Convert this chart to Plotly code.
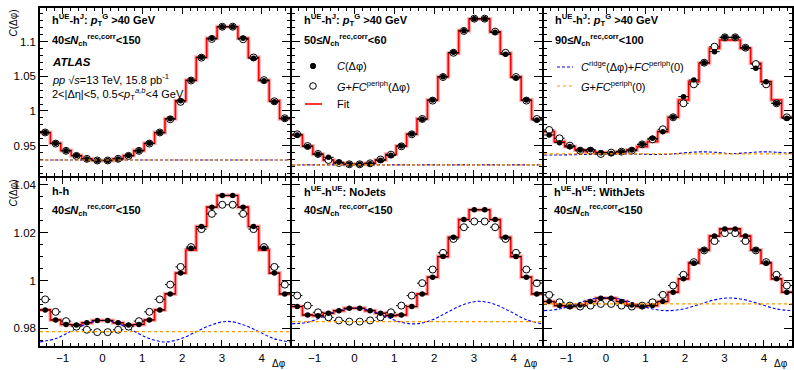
import numpy as np
import plotly.graph_objects as go

W, H = 794, 370
PI = np.pi
NB = 24
edges = -PI / 2 + np.arange(NB + 1) * (2 * PI / NB)
centers = 0.5 * (edges[:-1] + edges[1:])
ridge_x = -PI / 2 + np.arange(17) * (PI / 8)

# ---------------- data ----------------
tl_C = [0.9688, 0.9534, 0.9428, 0.9356, 0.9308, 0.9284, 0.9284, 0.9308, 0.9356, 0.9428, 0.9534, 0.9688,
        0.9889, 1.0149, 1.0442, 1.0774, 1.1048, 1.1216, 1.1216, 1.1048, 1.0760, 1.0438, 1.0134, 0.9890]
tl_G = [0.9690, 0.9530, 0.9425, 0.9352, 0.9310, 0.9286, 0.9286, 0.9310, 0.9352, 0.9425, 0.9530, 0.9690,
        0.9880, 1.0132, 1.0440, 1.0770, 1.1040, 1.1216, 1.1216, 1.1035, 1.0772, 1.0445, 1.0140, 0.9895]
tl_fit = [0.9688, 0.9534, 0.9430, 0.9358, 0.9310, 0.9286, 0.9286, 0.9310, 0.9358, 0.9430, 0.9534, 0.9688,
          0.9889, 1.0149, 1.0442, 1.0774, 1.1048, 1.1216, 1.1216, 1.1048, 1.0774, 1.0442, 1.0149, 0.9889]
tl_ridge = [0.9293] * 17
tl_ped = 0.9293

tm_C = [0.9654, 0.9486, 0.9375, 0.9332, 0.9260, 0.9231, 0.9231, 0.9240, 0.9288, 0.9360, 0.9495, 0.9668,
        0.9880, 1.0159, 1.0495, 1.0846, 1.1159, 1.1332, 1.1332, 1.1135, 1.0817, 1.0480, 1.0159, 0.9870]
tm_G = [0.9664, 0.9495, 0.9380, 0.9293, 0.9250, 0.9231, 0.9231, 0.9245, 0.9300, 0.9370, 0.9490, 0.9664,
        0.9885, 1.0150, 1.0490, 1.0840, 1.1155, 1.1332, 1.1332, 1.1145, 1.0840, 1.0490, 1.0150, 0.9885]
tm_fit = [0.9654, 0.9495, 0.9375, 0.9293, 0.9245, 0.9231, 0.9231, 0.9245, 0.9293, 0.9375, 0.9495, 0.9664,
          0.9887, 1.0159, 1.0495, 1.0832, 1.1159, 1.1327, 1.1327, 1.1144, 1.0832, 1.0495, 1.0159, 0.9887]
tm_ridge = [0.9222] * 17
tm_ped = 0.9222

tr_C = [0.9654, 0.9543, 0.9486, 0.9438, 0.9442, 0.9399, 0.9385, 0.9413, 0.9438, 0.9519, 0.9606, 0.9702,
        0.9909, 1.0207, 1.0447, 1.0697, 1.0856, 1.1063, 1.1063, 1.0913, 1.0615, 1.0423, 1.0111, 0.9894]
tr_G = [0.9726, 0.9606, 0.9500, 0.9428, 0.9428, 0.9380, 0.9399, 0.9413, 0.9428, 0.9519, 0.9591, 0.9736,
        0.9909, 1.0111, 1.0385, 1.0697, 1.0928, 1.1063, 1.1063, 1.0913, 1.0678, 1.0385, 1.0111, 0.9909]
tr_fit = [0.9702, 0.9558, 0.9486, 0.9438, 0.9413, 0.9399, 0.9399, 0.9413, 0.9438, 0.9486, 0.9558, 0.9702,
          0.9909, 1.0159, 1.0423, 1.0688, 1.0904, 1.1024, 1.1024, 1.0904, 1.0688, 1.0423, 1.0159, 0.9909]
tr_ridge = [0.9365, 0.9365, 0.9370, 0.9375, 0.9380, 0.9380, 0.9378, 0.9372, 0.9375, 0.9395, 0.9410,
            0.9405, 0.9385, 0.9395, 0.9410, 0.9405, 0.9385]
tr_ped = 0.9380

bl_C = [0.9877, 0.9835, 0.9816, 0.9814, 0.9823, 0.9833, 0.9833, 0.9823, 0.9814, 0.9816, 0.9835, 0.9877,
        0.9944, 1.0031, 1.0135, 1.0226, 1.0307, 1.0356, 1.0356, 1.0307, 1.0226, 1.0135, 1.0031, 0.9944]
bl_G = [0.9921, 0.9869, 0.9830, 0.9807, 0.9794, 0.9784, 0.9784, 0.9794, 0.9807, 0.9830, 0.9869, 0.9921,
        0.9983, 1.0057, 1.0140, 1.0215, 1.0279, 1.0317, 1.0317, 1.0279, 1.0215, 1.0140, 1.0057, 0.9983]
bl_fit = [0.9877, 0.9835, 0.9816, 0.9814, 0.9823, 0.9833, 0.9833, 0.9823, 0.9814, 0.9816, 0.9835, 0.9877,
          0.9944, 1.0031, 1.0128, 1.0226, 1.0307, 1.0356, 1.0356, 1.0307, 1.0226, 1.0128, 1.0031, 0.9944]
bl_ridge = [0.9743, 0.9757, 0.9788, 0.9819, 0.9833, 0.9819, 0.9788, 0.9757, 0.9743, 0.9756, 0.9786,
            0.9815, 0.9829, 0.9815, 0.9786, 0.9756, 0.9743]
bl_ped = 0.97865

bm_C = [0.9891, 0.9856, 0.9853, 0.9863, 0.9874, 0.9884, 0.9884, 0.9874, 0.9863, 0.9853, 0.9856, 0.9891,
        0.9944, 1.0014, 1.0100, 1.0181, 1.0255, 1.0296, 1.0296, 1.0255, 1.0181, 1.0100, 1.0014, 0.9944]
bm_G = [0.9937, 0.9895, 0.9867, 0.9846, 0.9833, 0.9828, 0.9828, 0.9833, 0.9846, 0.9867, 0.9895, 0.9937,
        0.9989, 1.0046, 1.0116, 1.0174, 1.0223, 1.0247, 1.0247, 1.0223, 1.0174, 1.0116, 1.0046, 0.9989]
bm_fit = [0.9891, 0.9856, 0.9853, 0.9863, 0.9874, 0.9884, 0.9884, 0.9874, 0.9863, 0.9853, 0.9856, 0.9891,
          0.9944, 1.0014, 1.0100, 1.0181, 1.0255, 1.0296, 1.0296, 1.0255, 1.0181, 1.0100, 1.0014, 0.9944]
bm_ridge = [0.9819, 0.9825, 0.9849, 0.9874, 0.9884, 0.9874, 0.9849, 0.9825, 0.9819, 0.9836, 0.9869,
            0.9900, 0.9913, 0.9900, 0.9869, 0.9836, 0.9819]
bm_ped = 0.9828

br_C = [0.9912, 0.9895, 0.9891, 0.9898, 0.9912, 0.9926, 0.9926, 0.9912, 0.9898, 0.9891, 0.9895, 0.9912,
        0.9951, 1.0007, 1.0073, 1.0128, 1.0186, 1.0216, 1.0216, 1.0186, 1.0128, 1.0073, 1.0007, 0.9951]
br_G = [0.9940, 0.9909, 0.9895, 0.9891, 0.9895, 0.9902, 0.9902, 0.9895, 0.9891, 0.9895, 0.9909, 0.9940,
        0.9979, 1.0024, 1.0077, 1.0126, 1.0165, 1.0198, 1.0198, 1.0165, 1.0126, 1.0077, 1.0024, 0.9979]
br_fit = [0.9912, 0.9895, 0.9891, 0.9898, 0.9912, 0.9926, 0.9926, 0.9912, 0.9898, 0.9891, 0.9895, 0.9912,
          0.9951, 1.0007, 1.0073, 1.0128, 1.0186, 1.0216, 1.0216, 1.0186, 1.0128, 1.0073, 1.0007, 0.9951]
br_ridge = [0.9874, 0.9881, 0.9901, 0.9921, 0.9929, 0.9921, 0.9901, 0.9881, 0.9874, 0.9881, 0.9900,
            0.9919, 0.9927, 0.9919, 0.9900, 0.9881, 0.9874]
br_ped = 0.9902

panels = [
    (tl_C, tl_G, tl_fit, tl_ridge, tl_ped),
    (tm_C, tm_G, tm_fit, tm_ridge, tm_ped),
    (tr_C, tr_G, tr_fit, tr_ridge, tr_ped),
    (bl_C, bl_G, bl_fit, bl_ridge, bl_ped),
    (bm_C, bm_G, bm_fit, bm_ridge, bm_ped),
    (br_C, br_G, br_fit, br_ridge, br_ped),
]

# ---------------- layout geometry (pixels) ----------------
cols_px = [(40, 290), (292, 542), (544, 792)]
rows_px = [(8, 176), (178, 346)]
yr_top = [0.9062, 1.1486]
yr_bot = [0.9726, 1.0429]

FONT = "Liberation Sans"
TFS = 11
fig = go.Figure()

def px_x(x):
    return x / W

def px_y(y):
    return 1 - y / H

for i, (C, G, fit, ridge, ped) in enumerate(panels):
    r, c = divmod(i, 3)
    n = i + 1
    xa = "x" if n == 1 else f"x{n}"
    ya = "y" if n == 1 else f"y{n}"
    fx = list(edges)
    fy = list(fit) + [fit[-1]]
    fig.add_trace(go.Scatter(x=fx, y=fy, mode="lines", line=dict(shape="hv", color="rgba(255,110,110,0.55)", width=4),
                             xaxis=xa, yaxis=ya, showlegend=False, hoverinfo="skip"))
    fig.add_trace(go.Scatter(x=fx, y=fy, mode="lines", line=dict(shape="hv", color="#ff0000", width=1.6),
                             xaxis=xa, yaxis=ya, showlegend=False))
    fig.add_shape(type="line", xref=f"{xa} domain", yref=ya, x0=0, x1=1, y0=ped, y1=ped,
                  line=dict(color="#ff9900", width=1.2, dash="dot"))
    fig.add_trace(go.Scatter(x=ridge_x, y=ridge, mode="lines",
                             line=dict(shape="spline", color="#0000ff", width=1.1, dash="3px,2px"),
                             xaxis=xa, yaxis=ya, showlegend=False))
    fig.add_trace(go.Scatter(x=centers, y=G, mode="markers",
                             marker=dict(symbol="circle", size=7, color="white", line=dict(color="black", width=1)),
                             error_x=dict(type="constant", value=PI / NB, width=0, color="black", thickness=1),
                             xaxis=xa, yaxis=ya, showlegend=False))
    fig.add_trace(go.Scatter(x=centers, y=C, mode="markers",
                             marker=dict(symbol="circle", size=5.5, color="black"),
                             error_x=dict(type="constant", value=PI / NB, width=0, color="black", thickness=1),
                             xaxis=xa, yaxis=ya, showlegend=False))

    x0, x1 = cols_px[c]
    y0, y1 = rows_px[r]
    common = dict(showline=True, mirror="allticks", linecolor="black", linewidth=1.5,
                  ticks="inside", tickcolor="black", tickwidth=1, showgrid=False, zeroline=False,
                  tickfont=dict(family=FONT, size=11.5, color="black"))
    fig.layout[("xaxis" if n == 1 else f"xaxis{n}")] = dict(
        domain=[px_x(x0), px_x(x1)], anchor=ya, range=[-PI / 2, 3 * PI / 2],
        tickvals=[-1, 0, 1, 2, 3, 4], ticklen=6,
        minor=dict(dtick=0.2, tick0=0, ticklen=3, ticks="inside", tickcolor="black"),
        showticklabels=(r == 1), **common)
    if r == 0:
        yk = dict(range=yr_top, tickvals=[0.95, 1.0, 1.05, 1.1], ticktext=["0.95", "1", "1.05", "1.1"],
                  minor=dict(dtick=0.01, tick0=0.9, ticklen=3, ticks="inside", tickcolor="black"))
    else:
        yk = dict(range=yr_bot, tickvals=[0.98, 1.0, 1.02, 1.04], ticktext=["0.98", "1", "1.02", "1.04"],
                  minor=dict(dtick=0.005, tick0=0.97, ticklen=3, ticks="inside", tickcolor="black"))
    fig.layout[("yaxis" if n == 1 else f"yaxis{n}")] = dict(
        domain=[px_y(y1), px_y(y0)], anchor=xa, ticklen=8,
        showticklabels=(c == 0), **yk, **common)

ann = []

def text(x, y, s, size=TFS, xanchor="left", yanchor="middle", angle=0):
    ann.append(dict(x=px_x(x), y=px_y(y), xref="paper", yref="paper", text=s, showarrow=False,
                    xanchor=xanchor, yanchor=yanchor, textangle=angle,
                    font=dict(family=FONT, size=size, color="black")))

hJ = "<b>h<sup>UE</sup>-h<sup>J</sup>: <i>p</i><sub>T</sub><sup>G</sup> >40 GeV</b>"
def nch(a, b):
    return f"<b>{a}≤<i>N</i><sub>ch</sub><sup>rec,corr</sup>&lt;{b}</b>"

text(50, 20, hJ)
text(50, 40, nch(40, 150))
text(302, 20, hJ)
text(302, 40, nch(50, 60))
text(553, 20, hJ)
text(553, 40, nch(90, 100))

text(50, 62, "<b><i>ATLAS</i></b>", size=11.5)
text(50, 79, "<i>pp</i> √<i>s</i>=13 TeV, 15.8 pb<sup>-1</sup>")
text(50, 94, "2&lt;|Δη|&lt;5, 0.5&lt;<i>p</i><sub>T</sub><sup><i>a,b</i></sup>&lt;4 GeV")

text(50, 191, "<b>h-h</b>")
text(50, 210, nch(40, 150))
text(302, 191, "<b>h<sup>UE</sup>-h<sup>UE</sup>: NoJets</b>")
text(302, 210, nch(40, 150))
text(552, 191, "<b>h<sup>UE</sup>-h<sup>UE</sup>: WithJets</b>")
text(552, 210, nch(40, 150))

text(335, 66, "<i>C</i>(Δφ)")
text(335, 86, "<i>G</i>+<i>FC</i><sup>periph</sup>(Δφ)")
text(335, 104, "Fit")
text(579, 66, "<i>C</i><sup>ridge</sup>(Δφ)+<i>FC</i><sup>periph</sup>(0)")
text(579, 86, "<i>G</i>+<i>FC</i><sup>periph</sup>(0)")

text(13, 8, "<i>C</i>(Δφ)", size=10, xanchor="center", yanchor="top", angle=-90)
text(13, 178, "<i>C</i>(Δφ)", size=10, xanchor="center", yanchor="top", angle=-90)
for xr in (290, 542, 792):
    text(xr - 2, 363, "Δφ", size=10, xanchor="right")

shapes = list(fig.layout.shapes)
def circ(cx, cy, rad, fill, line="black"):
    shapes.append(dict(type="circle", xref="paper", yref="paper",
                       x0=px_x(cx - rad), x1=px_x(cx + rad), y0=px_y(cy + rad), y1=px_y(cy - rad),
                       fillcolor=fill, line=dict(color=line, width=1)))
def seg(xa_, xb_, y, color, dash, width=1.5):
    shapes.append(dict(type="line", xref="paper", yref="paper", x0=px_x(xa_), x1=px_x(xb_),
                       y0=px_y(y), y1=px_y(y), line=dict(color=color, width=width, dash=dash)))

circ(313, 66, 2.7, "black")
circ(313, 86, 3.3, "white")
seg(305, 322, 104, "#ff0000", "solid", 1.6)
seg(557, 573, 67, "#0000ff", "3px,2px", 1.1)
seg(557, 573, 86, "#ff9900", "dot", 1.2)

fig.update_layout(width=W, height=H, margin=dict(l=0, r=0, t=0, b=0),
                  paper_bgcolor="white", plot_bgcolor="white",
                  annotations=ann, shapes=shapes, showlegend=False)
fig.write_html("out.html", config={"displayModeBar": False},
               post_script="document.body.style.margin='0';document.body.style.overflow='hidden';")
